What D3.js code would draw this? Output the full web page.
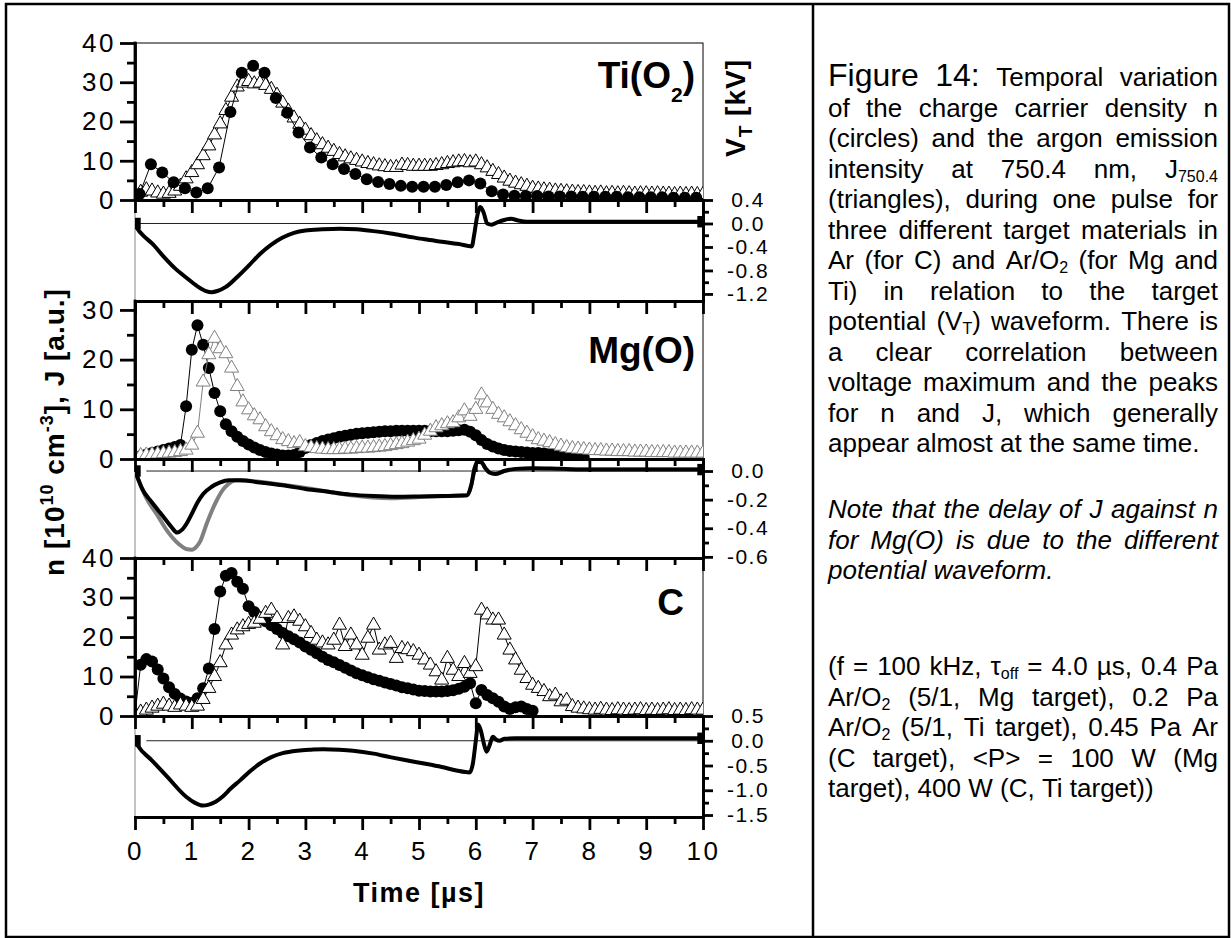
<!DOCTYPE html>
<html>
<head>
<meta charset="utf-8">
<script src="https://cdn.jsdelivr.net/npm/d3@7"></script>
<style>
  html, body { margin: 0; padding: 0; background: #fff; }
  svg { display: block; font-family: "Liberation Sans", Arial, Helvetica, sans-serif; }
</style>
</head>
<body>
<svg id="fig" width="1231" height="938"></svg>
<script>
// ---------------- data ----------------
// time axis (µs)
const timeTicks = [0, 1, 2, 3, 4, 5, 6, 7, 8, 9, 10];
const timeMinor = [0.5, 1.5, 2.5, 3.5, 4.5, 5.5, 6.5, 7.5, 8.5, 9.5];

// left axes: n [1e10 cm^-3], J [a.u.]
const nTicksTi = [0, 10, 20, 30, 40];
const nTicksMg = [0, 10, 20, 30];
const nTicksC  = [0, 10, 20, 30, 40];

// right axes: target potential V_T [kV]
const vTicksTi = [0.4, 0.0, -0.4, -0.8, -1.2];
const vTicksMg = [0.0, -0.2, -0.4, -0.6];
const vTicksC  = [0.5, 0.0, -0.5, -1.0, -1.5];

// sampling grids of the measurements
const tJ   = d3.range(101).map(i => +(i * 0.1).toFixed(2));          // emission J, every 0.1 µs
const tTiN = d3.range(50).map(i => +(0.08 + i * 0.2).toFixed(2));    // Ti probe, every 0.2 µs
const tMgN = d3.range(80).map(i => +(i * 0.1).toFixed(2));           // Mg probe
const tCN  = d3.range(71).map(i => +(i * 0.1).toFixed(2));           // C probe

// Ti(O2): charge carrier density n (circles)
const nTi = [1.5, 9.1, 7.0, 4.5, 3.0, 1.9, 3.0, 8.3, 22.4, 32.4,
             34.2, 32.4, 26.0, 22.2, 17.2, 13.4, 10.8, 9.1, 7.9, 6.6,
             5.3, 4.6, 4.1, 3.6, 3.4, 3.4, 3.4, 3.8, 4.5, 5.0,
             4.2, 2.2, 1.4, 1.1, 1.0, 1.0, 0.9, 0.9, 0.9, 0.8,
             0.8, 0.8, 0.8, 0.7, 0.7, 0.7, 0.7, 0.6, 0.6, 0.6];
// Ti(O2): Ar emission J 750.4 nm (triangles)
const jTi = [0.8, 2.0, 2.6, 2.3, 1.8, 1.5, 1.7, 2.3, 3.5, 5.4,
             7.0, 9.0, 11.3, 13.8, 16.6, 19.4, 22.8, 26.2, 28.8, 29.8,
             30.2, 29.6, 29.8, 29.2, 28.2, 26.7, 24.7, 22.6, 20.9, 19.3,
             17.8, 16.4, 15.1, 14.1, 13.2, 12.4, 11.6, 11.0, 10.5, 10.1,
             9.7, 9.3, 9.0, 8.7, 8.5, 8.3, 8.3, 8.9, 8.8, 8.6,
             8.6, 8.6, 8.6, 8.8, 9.0, 9.3, 9.5, 9.7, 9.8, 9.5,
             9.7, 9.0, 8.2, 7.3, 6.5, 5.6, 4.8, 4.3, 3.9, 3.5,
             3.0, 2.8, 2.6, 2.5, 2.3, 2.2, 2.1, 2.0, 1.9, 1.9,
             1.8, 1.7, 1.8, 1.6, 1.7, 1.6, 1.7, 1.6, 1.5, 1.6,
             1.6, 1.5, 1.6, 1.5, 1.5, 1.4, 1.5, 1.4, 1.5, 1.4,
             1.4];

// Mg(O)
const nMg = [0.3, 0.6, 0.9, 1.2, 1.5, 1.8, 2.1, 2.4, 2.8, 10.6,
             22.0, 26.9, 23.0, 18.3, 13.3, 9.6, 7.0, 5.6, 4.5, 3.6,
             2.9, 2.3, 1.8, 1.4, 1.1, 0.9, 0.7, 0.7, 0.8, 1.4,
             2.2, 2.8, 3.2, 3.6, 3.9, 4.2, 4.5, 4.7, 4.9, 5.1,
             5.2, 5.3, 5.4, 5.5, 5.6, 5.6, 5.7, 5.7, 5.7, 5.7,
             5.7, 5.7, 5.6, 5.6, 5.6, 5.6, 5.7, 5.8, 5.9, 5.5,
             4.8, 3.8, 3.0, 2.5, 2.1, 1.8, 1.6, 1.5, 1.4, 1.3,
             1.2, 1.2, 1.1, 1.0, 0.9, 0.8, 0.7, 0.6, 0.5, 0.4];
const jMg = [0.6, 0.7, 0.8, 0.9, 1.0, 1.1, 1.2, 1.3, 1.5, 1.8,
             2.8, 5.2, 15.5, 21.0, 24.3, 22.2, 21.2, 18.3, 14.6, 11.5,
             9.9, 8.7, 7.9, 6.5, 5.5, 4.7, 3.9, 3.5, 3.1, 3.3,
             2.5, 2.3, 2.1, 2.0, 1.9, 1.9, 1.9, 2.0, 2.0, 2.1,
             2.2, 2.2, 2.3, 2.4, 2.5, 2.7, 2.9, 3.1, 3.4, 3.7,
             4.0, 4.8, 5.6, 6.3, 6.7, 7.1, 7.3, 8.3, 9.7, 8.6,
             10.0, 12.9, 11.3, 10.0, 9.0, 8.3, 7.5, 6.7, 5.9, 5.2,
             4.5, 3.9, 3.6, 3.3, 2.9, 2.6, 2.3, 2.1, 2.0, 1.9,
             1.8, 1.7, 1.7, 1.6, 1.6, 1.5, 1.5, 1.5, 1.4, 1.4,
             1.4, 1.3, 1.3, 1.3, 1.3, 1.2, 1.2, 1.2, 1.2, 1.2,
             1.2];

// C
const nC = [0.5, 13.0, 14.4, 13.8, 11.8, 9.5, 7.3, 5.6, 4.4, 3.7,
            3.3, 4.5, 7.0, 12.0, 22.0, 31.5, 35.5, 36.2, 34.0, 32.2,
            27.8, 26.3, 25.0, 24.0, 23.0, 22.0, 21.0, 20.2, 19.4, 18.6,
            17.6, 16.8, 15.9, 15.0, 14.2, 13.6, 12.9, 12.2, 11.5, 10.8,
            10.3, 9.8, 9.3, 8.9, 8.5, 8.1, 7.7, 7.3, 7.0, 6.7,
            6.4, 6.3, 6.2, 6.2, 6.2, 6.3, 6.5, 6.9, 7.4, 8.3,
            3.2, 6.6, 5.3, 4.5, 3.6, 2.4, 1.8, 2.2, 2.4, 1.8,
            1.3];
const jC = [0.5, 1.0, 1.5, 2.0, 2.5, 3.0, 2.5, 2.2, 2.8, 2.5,
            2.2, 2.5, 4.2, 7.0, 10.0, 13.5, 18.0, 20.5, 21.8, 22.6,
            23.2, 23.5, 24.5, 26.0, 26.8, 24.7, 18.0, 24.7, 25.1, 24.0,
            22.6, 20.9, 19.2, 18.5, 18.0, 19.2, 23.0, 17.6, 20.5, 18.0,
            15.4, 19.7, 23.0, 16.7, 18.0, 18.4, 14.6, 17.1, 16.8, 16.3,
            15.4, 14.2, 12.9, 11.2, 9.1, 14.6, 11.6, 10.0, 13.3, 10.8,
            12.5, 26.8, 25.6, 24.3, 24.3, 20.5, 16.7, 14.2, 11.6, 9.5,
            7.8, 7.0, 6.2, 4.9, 5.3, 3.6, 4.0, 2.4, 2.0, 1.8,
            1.6, 1.5, 1.7, 1.5, 1.4, 1.6, 1.5, 1.4, 1.5, 1.6,
            1.4, 1.5, 1.4, 1.5, 1.6, 1.4, 1.5, 1.4, 1.6, 1.5,
            1.5];

// target potential waveforms (kV)
const vtTi = [0, 0.05, 0.15, 0.3, 0.5, 0.7, 0.9, 1.1, 1.25, 1.35, 1.45, 1.6, 1.8, 2.0, 2.2, 2.4, 2.6, 2.8,
              3.0, 3.3, 3.6, 3.9, 4.2, 4.5, 4.8, 5.1, 5.4, 5.7, 5.93, 5.97, 6.02, 6.08, 6.14, 6.2, 6.28,
              6.38, 6.5, 6.62, 6.75, 6.9, 7.2, 7.6, 8.0, 8.5, 9.0, 9.5, 10.0];
const vTi  = [0.0, -0.1, -0.21, -0.34, -0.56, -0.76, -0.92, -1.07, -1.15, -1.17, -1.15, -1.08, -0.91, -0.72,
              -0.52, -0.36, -0.24, -0.16, -0.12, -0.10, -0.09, -0.10, -0.13, -0.17, -0.22, -0.27, -0.31,
              -0.35, -0.39, -0.2, 0.1, 0.28, 0.18, 0.0, -0.02, 0.02, 0.06, 0.08, 0.05, 0.03, 0.03, 0.03,
              0.03, 0.03, 0.03, 0.03, 0.03];

const vtMgA = [0, 0.05, 0.12, 0.3, 0.5, 0.64, 0.74, 0.83, 0.92, 1.0, 1.1, 1.2, 1.35, 1.5, 1.65, 1.85, 2.2,
               2.6, 3.0, 3.4, 3.8, 4.2, 4.6, 5.0, 5.4, 5.85, 5.92, 5.98, 6.03, 6.1, 6.17, 6.24, 6.35, 6.5,
               6.7, 7.0, 7.5, 8.0, 9.0, 10.0];
const vMgA  = [0, -0.05, -0.12, -0.22, -0.32, -0.39, -0.43, -0.41, -0.36, -0.30, -0.22, -0.16, -0.11,
               -0.08, -0.065, -0.065, -0.08, -0.10, -0.125, -0.145, -0.165, -0.175, -0.18, -0.178,
               -0.175, -0.17, -0.10, 0.02, 0.065, 0.06, 0.02, -0.01, -0.02, 0.0, 0.015, 0.02, 0.015,
               0.01, 0.01, 0.01];
const vtMgB = [0, 0.1, 0.2, 0.38, 0.57, 0.77, 0.9, 1.0, 1.08, 1.15, 1.26, 1.42, 1.55, 1.62, 1.78, 2.07,
               2.5, 3.2, 3.8, 4.5, 5.1, 5.85, 5.92, 5.98, 6.03, 6.1, 6.17, 6.24, 6.35, 6.5, 6.7, 7.0, 8.0,
               9.0, 10.0];
const vMgB  = [0, -0.1, -0.19, -0.30, -0.42, -0.51, -0.545, -0.55, -0.53, -0.49, -0.37, -0.22, -0.13,
               -0.10, -0.065, -0.07, -0.09, -0.13, -0.17, -0.19, -0.18, -0.17, -0.10, 0.02, 0.065, 0.06,
               0.02, -0.01, -0.02, 0.0, 0.01, 0.015, 0.01, 0.01, 0.01];

const vtC = [0, 0.05, 0.3, 0.57, 0.9, 1.05, 1.19, 1.3, 1.42, 1.55, 1.68, 1.85, 2.01, 2.2, 2.4, 2.6, 2.86,
             3.1, 3.31, 3.6, 3.84, 4.2, 4.49, 4.8, 5.14, 5.4, 5.66, 5.89, 5.95, 6.0, 6.04, 6.09, 6.14,
             6.19, 6.24, 6.3, 6.36, 6.42, 6.5, 6.7, 7.0, 8.0, 9.0, 10.0];
const vC  = [0, -0.1, -0.4, -0.73, -1.13, -1.25, -1.31, -1.29, -1.23, -1.12, -0.97, -0.8, -0.63, -0.46,
             -0.33, -0.25, -0.2, -0.18, -0.17, -0.18, -0.2, -0.26, -0.33, -0.4, -0.47, -0.53, -0.6, -0.64,
             -0.45, 0.0, 0.33, 0.2, -0.05, -0.22, -0.1, 0.08, 0.02, 0.0, 0.04, 0.05, 0.05, 0.05, 0.05, 0.05];

// caption text (_{..} subscript, #{..} heading size)
const captionMain = [
  "#{Figure} #{14:} Temporal variation",
  "of the charge carrier density n",
  "(circles) and the argon emission",
  "intensity at 750.4 nm, J_{750.4}",
  "(triangles), during one pulse for",
  "three different target materials in",
  "Ar (for C) and Ar/O_{2} (for Mg and",
  "Ti) in relation to the target",
  "potential (V_{T}) waveform. There is",
  "a clear correlation between",
  "voltage maximum and the peaks",
  "for n and J, which generally",
  "appear almost at the same time."
];
const captionNote = [
  "Note that the delay of J against n",
  "for Mg(O) is due to the different",
  "potential waveform."
];
const captionCond = [
  "(f = 100 kHz, τ_{off} = 4.0 µs, 0.4 Pa",
  "Ar/O_{2} (5/1, Mg target), 0.2 Pa",
  "Ar/O_{2} (5/1, Ti target), 0.45 Pa Ar",
  "(C target), <P> = 100 W (Mg",
  "target), 400 W (C, Ti target))"
];

// ---------------- layout ----------------
const svg = d3.select("#fig");
const X0 = 135, X1 = 703;
const x = d3.scaleLinear().domain([0, 10]).range([X0, X1]);

const panels = [
  { id: "ti", top: 43, axis: 200, bottom: 301, nMax: 40, nTicks: nTicksTi,
    vDomain: [-1.32, 0.4], vTicks: vTicksTi,
    circles: { t: tTiN, v: nTi }, tris: { t: tJ, v: jTi }, triColor: "#000", circlesOnTop: true,
    volts: [{ t: vtTi, v: vTi, color: "#000", ends: true }], refStart: 0,
    label: [["Ti(O", 0], ["2", 1], [")", 0]], labelX: 695, labelY: 88 },
  { id: "mg", top: 301, axis: 459, bottom: 558, nMax: 31.8, nTicks: nTicksMg,
    vDomain: [-0.608, 0.084], vTicks: vTicksMg,
    circles: { t: tMgN, v: nMg }, tris: { t: tJ, v: jMg }, triColor: "#808080", circlesOnTop: false,
    volts: [{ t: vtMgB, v: vMgB, color: "#808080", ends: false },
            { t: vtMgA, v: vMgA, color: "#000", ends: true }], refStart: 0.2,
    label: [["Mg(O)", 0]], labelX: 695, labelY: 363 },
  { id: "c", top: 558, axis: 716, bottom: 817, nMax: 40, nTicks: nTicksC,
    vDomain: [-1.54, 0.5], vTicks: vTicksC,
    circles: { t: tCN, v: nC }, tris: { t: tJ, v: jC }, triColor: "#000", circlesOnTop: false,
    volts: [{ t: vtC, v: vC, color: "#000", ends: true }], refStart: 0.2,
    label: [["C", 0]], labelX: 684, labelY: 615 }
];

const AX_W = 2.8;
const TICK_FONT = 26;
const VTICK_FONT = 21;
const defs = svg.append("defs");

function styleAxis(g, fontSize = TICK_FONT, spacing = "2.5px") {
  g.select(".domain").attr("stroke", "#000").attr("stroke-width", AX_W).attr("stroke-linecap", "square");
  g.selectAll(".tick line").attr("stroke", "#000").attr("stroke-width", AX_W);
  g.attr("font-family", null).attr("font-size", fontSize);
  g.selectAll(".tick text").attr("fill", "#000").style("letter-spacing", spacing);
  return g;
}

function timeAxis(yPos, labelled) {
  const major = d3.axisBottom(x).tickValues(timeTicks).tickSize(13).tickSizeOuter(0)
    .tickPadding(12).tickFormat(labelled ? d3.format("d") : "");
  const minor = d3.axisBottom(x).tickValues(timeMinor).tickSize(7).tickSizeOuter(0).tickFormat("");
  styleAxis(svg.append("g").attr("transform", `translate(0,${yPos})`).call(minor));
  styleAxis(svg.append("g").attr("transform", `translate(0,${yPos})`).call(major));
}

const fmtV = v => v.toFixed(1);
const triSym = d3.symbol().type(d3.symbolTriangle).size(85);
const sqSym = d3.symbol().type(d3.symbolSquare).size(130);

panels.forEach((p, pi) => {
  const y = d3.scaleLinear().domain([0, p.nMax]).range([p.axis, p.top]);
  const yv = d3.scaleLinear().domain(p.vDomain).range([p.bottom, p.axis]);

  // frames: thin outline of the data panel, thin gray left edge of the potential panel
  svg.append("rect").attr("x", X0).attr("y", p.top).attr("width", X1 - X0).attr("height", p.axis - p.top)
    .attr("fill", "none").attr("stroke", "#000").attr("stroke-width", 1);
  svg.append("line").attr("x1", X0).attr("x2", X0).attr("y1", p.axis).attr("y2", p.bottom)
    .attr("stroke", "#888").attr("stroke-width", 1);

  // clip regions
  defs.append("clipPath").attr("id", `clip-n-${p.id}`).append("rect")
    .attr("x", X0).attr("y", p.top).attr("width", X1 - X0).attr("height", p.axis - p.top);
  defs.append("clipPath").attr("id", `clip-v-${p.id}`).append("rect")
    .attr("x", X0).attr("y", p.axis).attr("width", X1 - X0).attr("height", p.bottom - p.axis);

  // ---- potential waveform ----
  const gv = svg.append("g").attr("clip-path", `url(#clip-v-${p.id})`);
  gv.append("line").attr("x1", x(p.refStart)).attr("x2", X1).attr("y1", yv(0)).attr("y2", yv(0))
    .attr("stroke", "#222").attr("stroke-width", 1);
  const vLine = d3.line().x(d => x(d[0])).y(d => yv(d[1])).curve(d3.curveMonotoneX);
  p.volts.forEach(s => {
    const pts = s.t.map((t, i) => [t, s.v[i]]);
    gv.append("path").attr("d", vLine(pts)).attr("fill", "none").attr("stroke", s.color)
      .attr("stroke-width", 4).attr("stroke-linejoin", "round");
    if (s.ends) {
      [pts[0], pts[pts.length - 1]].forEach(d => {
        gv.append("path").attr("d", sqSym()).attr("transform", `translate(${x(d[0])},${yv(d[1])})`)
          .attr("fill", s.color);
      });
    }
  });

  // ---- density (circles) and emission (triangles) ----
  const gn = svg.append("g").attr("clip-path", `url(#clip-n-${p.id})`);
  const nLine = d3.line().x(d => x(d[0])).y(d => y(d[1]));
  const circPts = p.circles.t.map((t, i) => [t, p.circles.v[i]]);
  const triPts = p.tris.t.map((t, i) => [t, p.tris.v[i]]);

  function drawCircles() {
    const g = gn.append("g");
    g.append("path").attr("d", nLine(circPts)).attr("fill", "none").attr("stroke", "#000").attr("stroke-width", 1);
    g.selectAll("circle").data(circPts).join("circle")
      .attr("cx", d => x(d[0])).attr("cy", d => y(d[1])).attr("r", 6).attr("fill", "#000");
  }
  function drawTris() {
    const g = gn.append("g");
    g.append("path").attr("d", nLine(triPts)).attr("fill", "none").attr("stroke", p.triColor).attr("stroke-width", 1);
    g.selectAll("path.tri").data(triPts).join("path").attr("class", "tri")
      .attr("d", triSym()).attr("transform", d => `translate(${x(d[0])},${y(d[1])})`)
      .attr("fill", "#fff").attr("stroke", p.triColor).attr("stroke-width", 1);
  }
  if (p.circlesOnTop) { drawTris(); drawCircles(); } else { drawCircles(); drawTris(); }

  // ---- axes ----
  const nMinor = p.nTicks.slice(1).map((v, i) => (v + p.nTicks[i]) / 2);
  styleAxis(svg.append("g").attr("transform", `translate(${X0},0)`)
    .call(d3.axisLeft(y).tickValues(nMinor).tickSize(8).tickSizeOuter(0).tickFormat("")));
  const gl = styleAxis(svg.append("g").attr("transform", `translate(${X0},0)`)
    .call(d3.axisLeft(y).tickValues(p.nTicks).tickSize(15).tickSizeOuter(0).tickPadding(4).tickFormat(d3.format("d"))));
  gl.select(".domain").attr("d", `M0,${p.axis}V${p.top}`);

  const vMinor = p.vTicks.slice(1).map((v, i) => (v + p.vTicks[i]) / 2);
  styleAxis(svg.append("g").attr("transform", `translate(${X1},0)`)
    .call(d3.axisRight(yv).tickValues(vMinor).tickSize(6).tickSizeOuter(0).tickFormat("")));
  const gr = styleAxis(svg.append("g").attr("transform", `translate(${X1},0)`)
    .call(d3.axisRight(yv).tickValues(p.vTicks).tickSize(10).tickSizeOuter(0).tickFormat(fmtV)),
    VTICK_FONT, "1.5px");
  gr.selectAll(".tick text").attr("text-anchor", "middle").attr("x", 45);

  timeAxis(p.axis, false);
  if (pi > 0) timeAxis(p.top, false);

  // panel label
  const lt = svg.append("text").attr("x", p.labelX).attr("y", p.labelY).attr("text-anchor", "end")
    .attr("font-size", 37).attr("font-weight", "bold");
  let sh = 0;
  p.label.forEach(([s, sub]) => {
    const target = sub ? 14 : 0;
    const ts = lt.append("tspan").attr("dy", target - sh).text(s);
    if (sub) ts.attr("font-size", 21);
    sh = target;
  });
});

// bottom time axis with labels
timeAxis(817, true);

// axis titles
svg.append("text").attr("x", 419).attr("y", 902).attr("text-anchor", "middle")
  .attr("font-size", 27).attr("font-weight", "bold").style("letter-spacing", "1.5px").text("Time [µs]");

const yt = svg.append("text").attr("transform", "translate(64,432) rotate(-90)").attr("text-anchor", "middle")
  .attr("font-size", 28).attr("font-weight", "bold").style("letter-spacing", "1px");
yt.append("tspan").text("n [10");
yt.append("tspan").attr("dy", -11).attr("font-size", 18).text("10");
yt.append("tspan").attr("dy", 11).text(" cm");
yt.append("tspan").attr("dy", -11).attr("font-size", 18).text("-3");
yt.append("tspan").attr("dy", 11).text("], J [a.u.]");

const vt = svg.append("text").attr("transform", "translate(745,108) rotate(-90)").attr("text-anchor", "middle")
  .attr("font-size", 28).attr("font-weight", "bold").style("letter-spacing", "1px");
vt.append("tspan").text("V");
vt.append("tspan").attr("dy", 7).attr("font-size", 19).text("T");
vt.append("tspan").attr("dy", -7).text(" [kV]");

// ---------------- frame ----------------
svg.append("rect").attr("x", 6).attr("y", 4).attr("width", 1223).attr("height", 933)
  .attr("fill", "none").attr("stroke", "#000").attr("stroke-width", 2.5);
svg.append("line").attr("x1", 813).attr("x2", 813).attr("y1", 4).attr("y2", 937)
  .attr("stroke", "#000").attr("stroke-width", 2.5);

// ---------------- caption ----------------
const CAP_L = 828, CAP_R = 1218, CAP_FONT = 26;
const SUB_FONT = 16, SUB_SHIFT = 4;

function parseWord(w) {
  return w.split(/(_\{[^}]*\}|#\{[^}]*\})/).filter(s => s.length).map(s => {
    if (s.startsWith("_{")) return { type: "sub", text: s.slice(2, -1) };
    if (s.startsWith("#{")) return { type: "big", text: s.slice(2, -1) };
    return { type: "n", text: s };
  });
}

function drawParagraph(lines, y0, step, italic) {
  const g = svg.append("g").attr("font-size", CAP_FONT).attr("font-style", italic ? "italic" : "normal");
  lines.forEach((line, li) => {
    const y = y0 + li * step;
    const nodes = line.split(" ").map(w => {
      const t = g.append("text").attr("y", y);
      let shift = 0;
      parseWord(w).forEach(seg => {
        const target = seg.type === "sub" ? SUB_SHIFT : 0;
        const ts = t.append("tspan").attr("dy", target - shift).text(seg.text);
        if (seg.type === "sub") ts.attr("font-size", SUB_FONT);
        if (seg.type === "big") ts.attr("font-size", 32);
        shift = target;
      });
      return t;
    });
    const widths = nodes.map(n => n.node().getComputedTextLength());
    const last = li === lines.length - 1;
    const gap = (!last && nodes.length > 1) ? (CAP_R - CAP_L - d3.sum(widths)) / (nodes.length - 1) : CAP_FONT * 0.278;
    let xp = CAP_L;
    nodes.forEach((n, k) => { n.attr("x", xp); xp += widths[k] + gap; });
  });
}

drawParagraph(captionMain, 86, 30.5, false);
drawParagraph(captionNote, 518, 30.5, true);
drawParagraph(captionCond, 675, 30.5, false);
</script>
</body>
</html>
